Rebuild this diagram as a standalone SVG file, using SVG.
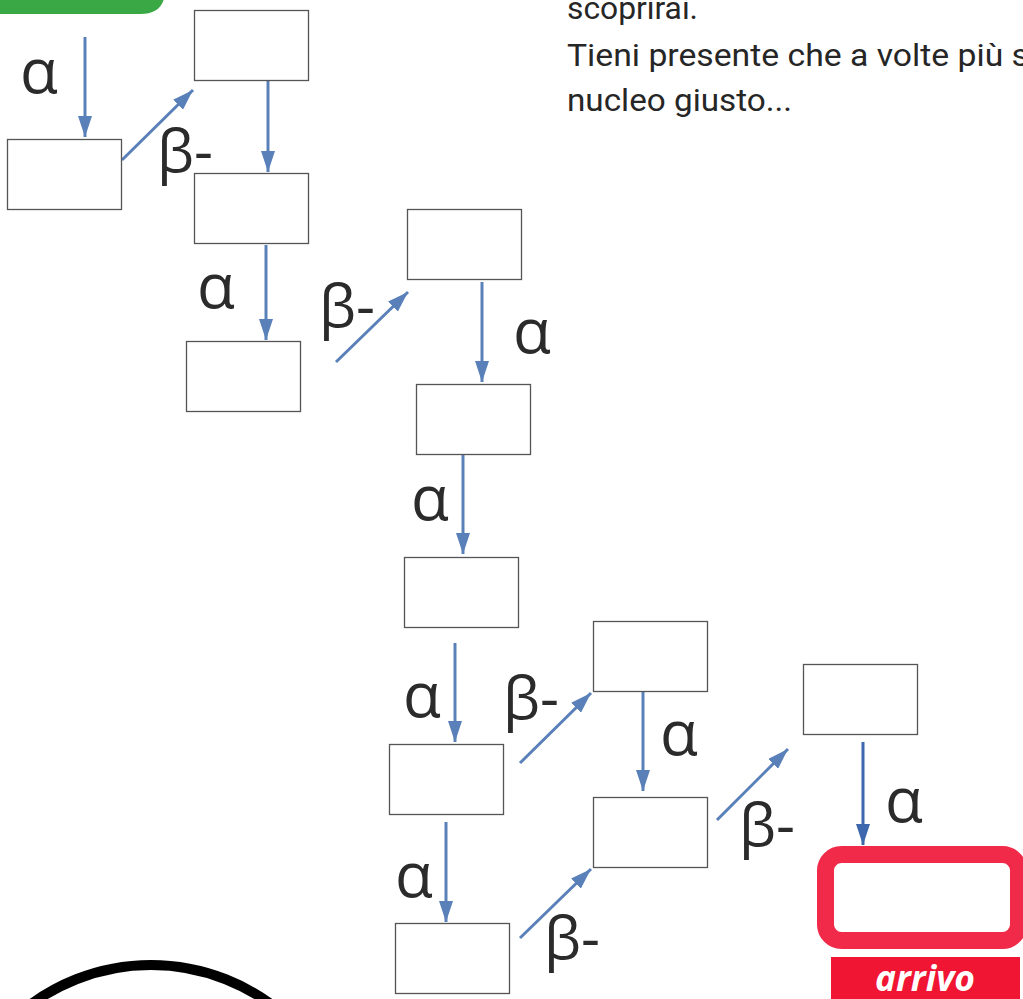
<svg xmlns="http://www.w3.org/2000/svg" width="1023" height="999" viewBox="0 0 1023 999">
<style>
.box{fill:#fff;stroke:#555;stroke-width:1.3}
.arr{stroke:#5a80b9;stroke-width:3;fill:none;marker-end:url(#ah)}
.a{font-family:"Open Sans","DejaVu Sans",sans-serif;font-size:62px;fill:#2b2b2b}
.b{font-family:"Open Sans","DejaVu Sans",sans-serif;font-size:59px;fill:#2b2b2b}
.txt{font-family:Roboto,"DejaVu Sans",sans-serif;font-size:32px;fill:#262626}
</style>
<defs>
<marker id="ah" viewBox="0 0 15 10" refX="15" refY="5" markerWidth="7" markerHeight="4.7" orient="auto" markerUnits="strokeWidth">
<path d="M0,0 L15,5 L0,10 z" fill="#5a80b9"/>
</marker>
<marker id="ah2" viewBox="0 0 15 10" refX="15" refY="5" markerWidth="7" markerHeight="4.7" orient="auto" markerUnits="strokeWidth">
<path d="M0,0 L15,5 L0,10 z" fill="#3d68ad"/>
</marker>
</defs>
<path d="M0,-5 H165 V-10 Q165,14 140,14 H0 Z" fill="#3aa845"/>
<g id="text">
<text class="txt" x="567" y="19" textLength="131" lengthAdjust="spacingAndGlyphs">scoprirai.</text>
<text class="txt" x="567" y="66" textLength="462" lengthAdjust="spacingAndGlyphs">Tieni presente che a volte più s</text>
<text class="txt" x="567" y="111" textLength="225" lengthAdjust="spacingAndGlyphs">nucleo giusto...</text>
</g>
<g id="connectors">
<line class="arr" x1="85" y1="37" x2="85" y2="137"/>
<line class="arr" x1="122" y1="160" x2="193" y2="90"/>
<line class="arr" x1="268" y1="81" x2="268" y2="172"/>
<line class="arr" x1="266" y1="245" x2="266" y2="340"/>
<line class="arr" x1="336" y1="362" x2="408" y2="292"/>
<line class="arr" x1="482" y1="282" x2="482" y2="382"/>
<line class="arr" x1="463" y1="455" x2="463" y2="554"/>
<line class="arr" x1="455" y1="643" x2="455" y2="742"/>
<line class="arr" x1="520" y1="763" x2="591" y2="693"/>
<line class="arr" x1="643" y1="692" x2="643" y2="791"/>
<line class="arr" x1="717" y1="820" x2="788" y2="749"/>
<line class="arr" x1="863" y1="742" x2="863" y2="845" style="stroke:#3d68ad;marker-end:url(#ah2)"/>
<line class="arr" x1="446" y1="822" x2="446" y2="922"/>
<line class="arr" x1="520" y1="938" x2="591" y2="869"/>
</g>
<g id="labels">
<text class="a" x="20" y="93">α</text>
<text class="b" x="157" y="172">β-</text>
<text class="a" x="197" y="308">α</text>
<text class="b" x="319" y="327">β-</text>
<text class="a" x="513" y="353">α</text>
<text class="a" x="411" y="520">α</text>
<text class="a" x="403" y="717">α</text>
<text class="b" x="503" y="719">β-</text>
<text class="a" x="660" y="755">α</text>
<text class="b" x="739" y="846">β-</text>
<text class="a" x="885" y="822">α</text>
<text class="a" x="395" y="897">α</text>
<text class="b" x="544" y="959">β-</text>
</g>
<g id="n1"><rect class="box" x="194.5" y="10.5" width="114" height="70"/></g>
<g id="n2"><rect class="box" x="7.5" y="139.5" width="114" height="70"/></g>
<g id="n3"><rect class="box" x="194.5" y="173.5" width="114" height="70"/></g>
<g id="n4"><rect class="box" x="186.5" y="341.5" width="114" height="70"/></g>
<g id="n5"><rect class="box" x="407.5" y="209.5" width="114" height="70"/></g>
<g id="n6"><rect class="box" x="416.5" y="384.5" width="114" height="70"/></g>
<g id="n7"><rect class="box" x="404.5" y="557.5" width="114" height="70"/></g>
<g id="n8"><rect class="box" x="593.5" y="621.5" width="114" height="70"/></g>
<g id="n9"><rect class="box" x="389.5" y="744.5" width="114" height="70"/></g>
<g id="n10"><rect class="box" x="803.5" y="664.5" width="114" height="70"/></g>
<g id="n11"><rect class="box" x="593.5" y="797.5" width="114" height="70"/></g>
<g id="n12"><rect class="box" x="395.5" y="923.5" width="114" height="70"/></g>
<g id="arrivo">
<rect x="825.5" y="854.5" width="193" height="86" rx="16" fill="#fff" stroke="#f02a48" stroke-width="17"/>
<rect x="831" y="957" width="189" height="42" fill="#ef1533"/>
<text x="925" y="991" text-anchor="middle" font-family="'Open Sans','DejaVu Sans',sans-serif" font-size="35" font-weight="bold" font-style="italic" fill="#fff" textLength="100" lengthAdjust="spacingAndGlyphs">arrivo</text>
</g>
<circle cx="151" cy="1168" r="203" fill="none" stroke="#000" stroke-width="10"/>
</svg>
